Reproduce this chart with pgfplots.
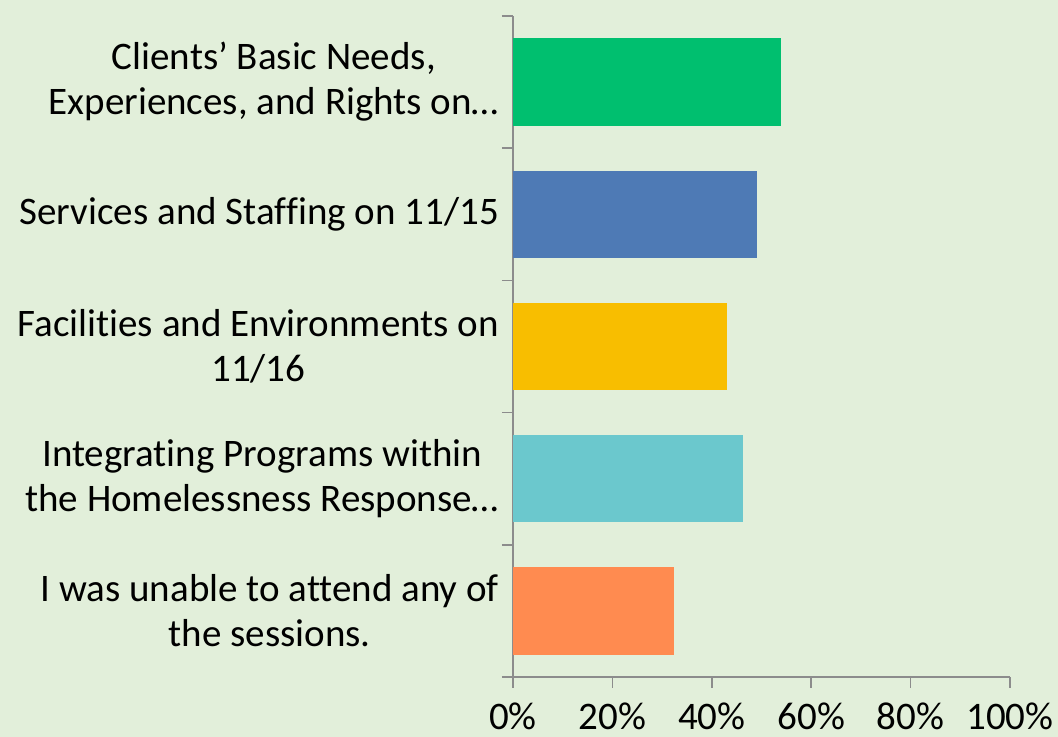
\documentclass[border=0pt]{standalone}
\usepackage{fontspec}
\setmainfont{Carlito}[Ligatures=NoCommon]
\usepackage{pgfplots}
\pgfplotsset{compat=1.18}
\definecolor{bg}{HTML}{E2EFDA}
\definecolor{axgray}{HTML}{8C8C8C}
\definecolor{cgreen}{HTML}{00BF6F}
\definecolor{cblue}{HTML}{4E7AB5}
\definecolor{cyellow}{HTML}{F8BE00}
\definecolor{cteal}{HTML}{6BC8CD}
\definecolor{corange}{HTML}{FF8B50}
\begin{document}
\begin{tikzpicture}
\fill[bg] (-256.5pt,-30pt) rectangle (272.5pt,338.5pt);
\useasboundingbox (-256.5pt,-30pt) rectangle (272.5pt,338.5pt);
\begin{axis}[
  at={(0,0)}, anchor=south west,
  scale only axis, width=248.5pt, height=330.5pt,
  xbar, bar shift=0pt, bar width=0.66,
  xmin=0, xmax=100, ymin=-0.5, ymax=4.5,
  axis x line*=bottom, axis y line*=left,
  axis line style={axgray, line width=0.8pt},
  every tick/.style={axgray, line width=0.8pt},
  tick align=outside,
  major tick length=5.5pt,
  xtick={0,20,40,60,80,100},
  xticklabels={0\%,20\%,40\%,60\%,80\%,100\%},
  ytick={-0.5,0.5,1.5,2.5,3.5,4.5},
  yticklabels={},
  extra y ticks={0,1,2,3,4},
  extra y tick labels={{I was unable to attend any of\\the sessions.},
               {Integrating Programs within\\the Homelessness Response…},
               {Facilities and Environments on\\11/16},
               {Services and Staffing on 11/15},
               {Clients’ Basic Needs,\\Experiences, and Rights on…}},
  extra y tick style={tick style={draw=none},
     yticklabel style={align=center, font=\fontsize{19.5}{22.5}\selectfont, xshift=2pt}},
  xticklabel style={font=\fontsize{19.5}{22}\selectfont, yshift=-4pt},
  /pgf/number format/assume math mode=true,
]
\addplot[draw=none, fill=corange] coordinates {(32.4,0)};
\addplot[draw=none, fill=cteal] coordinates {(46.3,1)};
\addplot[draw=none, fill=cyellow] coordinates {(43.1,2)};
\addplot[draw=none, fill=cblue] coordinates {(49.1,3)};
\addplot[draw=none, fill=cgreen] coordinates {(53.9,4)};
\end{axis}
\end{tikzpicture}
\end{document}
